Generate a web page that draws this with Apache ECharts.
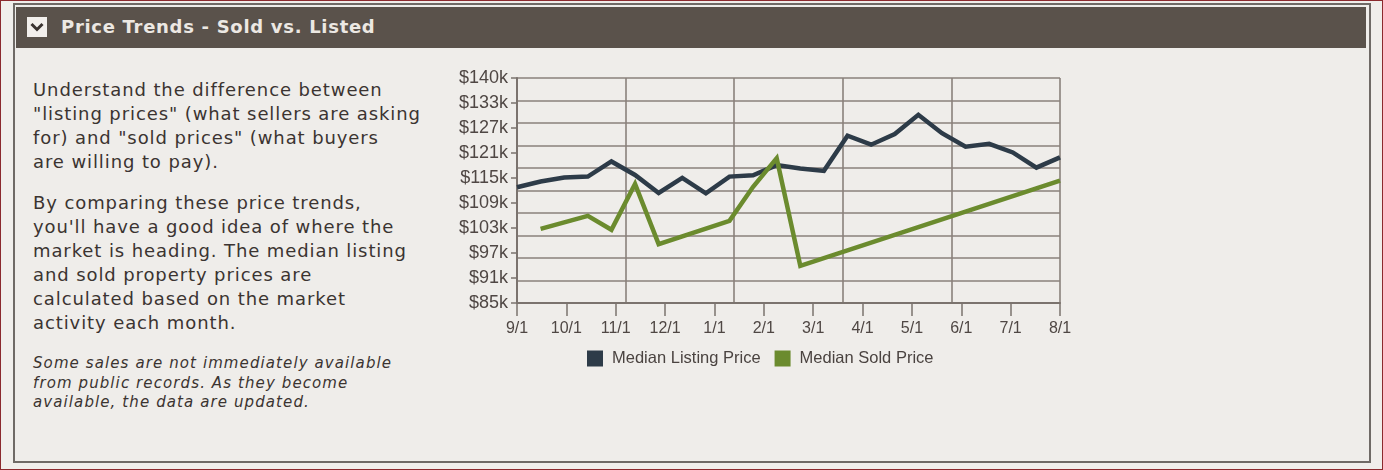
<!DOCTYPE html>
<html lang="en">
<head>
    <meta charset="UTF-8"/>
    <title>Price Trends - Sold vs. Listed</title>
    <script src="https://cdn.jsdelivr.net/npm/echarts@6.0.0/dist/echarts.min.js"></script>
    <style>
        html, body { margin: 0; padding: 0; }
        body {
            width: 1383px; height: 470px; overflow: hidden;
            background: #f0eeeb;
            font-family: "DejaVu Sans", Verdana, sans-serif;
            position: relative;
            box-sizing: border-box;
            border: 1px solid #8b2a2e;
        }
        .frame {
            position: absolute; left: 12px; top: 2px; width: 1354px; height: 456px;
            border: 2px solid #6f6a66;
            background: #efedea;
        }
        .header {
            position: absolute; left: 15px; top: 6px; width: 1350px; height: 41px;
            background: #5a524b;
        }
        .toggle {
            position: absolute; left: 11px; top: 10px; width: 20px; height: 20px;
            background: #f2efec;
        }
        .toggle svg { position: absolute; left: 3px; top: 4px; }
        .title {
            position: absolute; left: 45px; top: 9px;
            color: #ece8e3; font-weight: bold; font-size: 18px; letter-spacing: 0.7px;
        }
        .copy {
            position: absolute; left: 32px; white-space: nowrap;
            color: #3b3431; font-size: 18px; line-height: 24px; letter-spacing: 0.9px;
        }
        .note {
            position: absolute; left: 32px; top: 353px; white-space: nowrap;
            color: #3b3431; font-size: 15px; line-height: 19.5px; font-style: italic; letter-spacing: 1.1px;
        }
        #chart { position: absolute; left: 439px; top: 59px; width: 640px; height: 330px; }
    </style>
</head>
<body>
    <div class="frame"></div>
    <div class="header">
        <div class="toggle">
            <svg width="14" height="12" viewBox="0 0 14 12"><path d="M1.5 3 L7 8.5 L12.5 3" stroke="#3a3330" stroke-width="3" fill="none"/></svg>
        </div>
        <div class="title">Price Trends - Sold vs. Listed</div>
    </div>

    <div class="copy" style="top:77px;">Understand the difference between<br>"listing prices" (what sellers are asking<br>for) and "sold prices" (what buyers<br>are willing to pay).</div>
    <div class="copy" style="top:190px;">By comparing these price trends,<br>you'll have a good idea of where the<br>market is heading. The median listing<br>and sold property prices are<br>calculated based on the market<br>activity each month.</div>
    <div class="note">Some sales are not immediately available<br>from public records. As they become<br>available, the data are updated.</div>

    <div id="chart"></div>

    <script>
        // semi-monthly sample points (hidden axis)
        const pointDates = ['9/1', '9/15', '10/1', '10/15', '11/1', '11/15', '12/1', '12/15',
            '1/1', '1/15', '2/1', '2/15', '3/1', '3/15', '4/1', '4/15', '5/1', '5/15',
            '6/1', '6/15', '7/1', '7/15', '8/1', '8/15'];
        const listingPrices = [113.3, 114.7, 115.7, 115.9, 119.6, 116.3, 111.9, 115.6,
            111.8, 115.9, 116.2, 118.7, 117.9, 117.3, 125.9, 123.7, 126.3, 131.0,
            126.5, 123.2, 123.9, 121.8, 118.1, 120.6];
        const soldPrices = [null, 103.1, null, 106.3, 102.9, 114.1, 99.4, null,
            null, 105.1, 113.4, 120.4, 94.1, null, null, null, null, null,
            null, null, null, null, null, 114.9];
        const monthLabels = ['9/1', '10/1', '11/1', '12/1', '1/1', '2/1', '3/1', '4/1', '5/1', '6/1', '7/1', '8/1'];
        const priceLabels = ['$85k', '$91k', '$97k', '$103k', '$109k', '$115k', '$121k', '$127k', '$133k', '$140k'];

        const gridColor = '#8a817b';
        const axisColor = '#7b736e';
        const labelColor = '#4f4744';

        const chart = echarts.init(document.getElementById('chart'));
        chart.setOption({
            animation: false,
            grid: { left: 77, top: 18, width: 543, height: 225, containLabel: false },
            legend: {
                data: ['Median Listing Price', 'Median Sold Price'],
                left: 142, top: 285,
                icon: 'rect', itemWidth: 16, itemHeight: 16, itemGap: 14,
                textStyle: { fontFamily: 'Liberation Sans, Arial', fontSize: 16.5, color: '#4a4340', padding: [0, 0, 0, 4] }
            },
            xAxis: [
                { type: 'category', data: pointDates, boundaryGap: false, show: false },
                {
                    type: 'category', data: monthLabels, boundaryGap: false, position: 'bottom',
                    axisLine: { onZero: false, lineStyle: { color: axisColor, width: 2 } },
                    axisTick: { length: 13, interval: 0, lineStyle: { color: axisColor, width: 1.5 } },
                    axisLabel: { interval: 0, margin: 18, fontFamily: 'Liberation Sans, Arial', fontSize: 16, color: labelColor },
                    splitLine: { show: false }
                },
                {
                    type: 'value', min: 0, max: 5, interval: 1, position: 'top',
                    axisLine: { show: false }, axisTick: { show: false }, axisLabel: { show: false },
                    splitLine: { show: true, lineStyle: { color: gridColor, width: 1.6 } }
                }
            ],
            yAxis: [
                { type: 'value', min: 85, max: 140, show: false },
                {
                    type: 'value', min: 0, max: 10, interval: 1, position: 'right',
                    axisLine: { show: false }, axisTick: { show: false }, axisLabel: { show: false },
                    splitLine: { show: true, lineStyle: { color: gridColor, width: 1.6 } }
                },
                {
                    type: 'category', data: priceLabels, boundaryGap: false, position: 'left',
                    axisLine: { onZero: false, lineStyle: { color: axisColor, width: 2 } },
                    axisTick: { length: 6, interval: 0, lineStyle: { color: axisColor, width: 1.5 } },
                    axisLabel: { interval: 0, margin: 9, fontFamily: 'Liberation Sans, Arial', fontSize: 18, color: labelColor },
                    splitLine: { show: false }
                }
            ],
            series: [
                {
                    name: 'Median Listing Price', type: 'line', data: listingPrices,
                    xAxisIndex: 0, yAxisIndex: 0, symbol: 'none',
                    itemStyle: { color: '#2d3b48' },
                    lineStyle: { color: '#2d3b48', width: 4.5, join: 'miter' }
                },
                {
                    name: 'Median Sold Price', type: 'line', data: soldPrices, connectNulls: true,
                    xAxisIndex: 0, yAxisIndex: 0, symbol: 'none',
                    itemStyle: { color: '#6b8b2e' },
                    lineStyle: { color: '#6b8b2e', width: 4.5, join: 'miter' }
                }
            ]
        });
    </script>
</body>
</html>
